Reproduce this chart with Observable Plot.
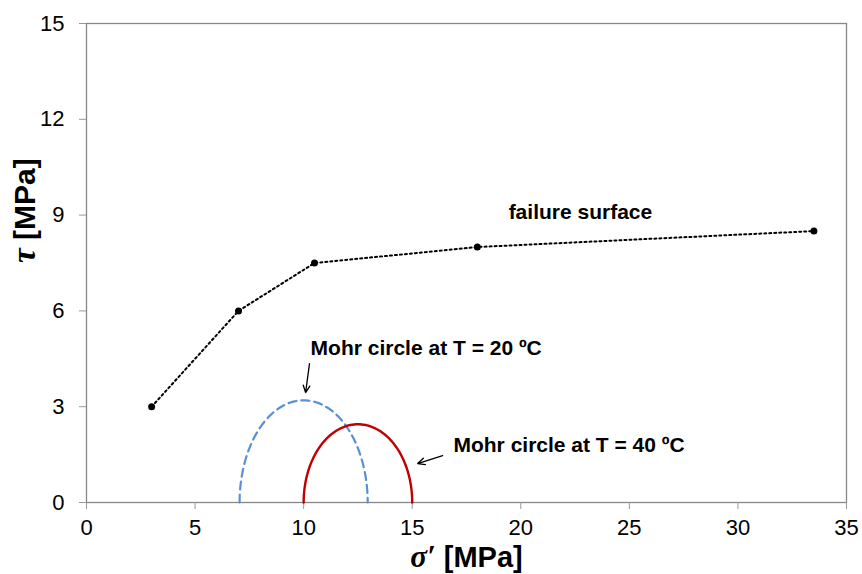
<!DOCTYPE html>
<html>
<head>
<meta charset="utf-8">
<script src="https://cdn.jsdelivr.net/npm/d3@7"></script>
<script src="https://cdn.jsdelivr.net/npm/@observablehq/plot@0.6"></script>
<style>
  html, body { margin: 0; padding: 0; background: #fff; }
  #chart { width: 862px; height: 574px; }
</style>
</head>
<body>
<div id="chart"></div>
<script>
// Failure surface points
const failureSigma = [3, 7, 10.5, 18, 33.5];
const failureTau = [3, 6, 7.5, 8, 8.5];

// Mohr circles (centre and half-axes)
const circleNames = ["T = 20 ºC", "T = 40 ºC"];
const circleCenter = [10, 12.5];
const circleRadiusX = [2.95, 2.5];
const circleRadiusY = [3.2, 2.45];
const circleColors = ["#5a8fd6", "#c00000"];

// Ticks
const xTicks = [0, 5, 10, 15, 20, 25, 30, 35];
const yTicks = [0, 3, 6, 9, 12, 15];

// Annotations
const annoText = ["failure surface", "Mohr circle at T = 20 ºC", "Mohr circle at T = 40 ºC"];
const annoX = [19.44, 10.32, 16.9];
const annoY = [9.08, 4.82, 1.79];

const arrowX1 = [10.27, 16.4];
const arrowY1 = [4.35, 1.47];
const arrowX2 = [10.09, 15.25];
const arrowY2 = [3.44, 1.22];

const failure = failureSigma.map((s, i) => ({s, t: failureTau[i]}));

function arc(i) {
  const pts = [];
  for (let a = 180; a >= 0; a -= 2) {
    const r = a * Math.PI / 180;
    pts.push({s: circleCenter[i] + circleRadiusX[i] * Math.cos(r), t: circleRadiusY[i] * Math.sin(r)});
  }
  return pts;
}
const circle20 = arc(0);
const circle40 = arc(1);

const annos = annoText.map((text, i) => ({text, x: annoX[i], y: annoY[i]}));
const arrows = arrowX1.map((x1, i) => ({x1, y1: arrowY1[i], x2: arrowX2[i], y2: arrowY2[i]}));

const font = "'Liberation Sans', Arial, Helvetica, sans-serif";

const chart = Plot.plot({
  width: 862,
  height: 574,
  marginLeft: 86,
  marginRight: 16,
  marginTop: 23,
  marginBottom: 72,
  style: {fontFamily: font, fontSize: "21px", color: "#000", background: "#fff", overflow: "visible"},
  x: {domain: [0, 35], ticks: xTicks, label: null},
  y: {domain: [0, 15], ticks: yTicks, label: null},
  marks: [
    Plot.frame({stroke: "#888", strokeWidth: 1.3}),
    Plot.axisX({ticks: xTicks, tickSize: 7, tickPadding: 10, stroke: "#999", fill: "#000", fontSize: 22, label: null}),
    Plot.axisY({ticks: yTicks, tickSize: 7, tickPadding: 15, stroke: "#999", fill: "#000", fontSize: 22, label: null}),
    Plot.line(circle20, {x: "s", y: "t", stroke: circleColors[0], strokeWidth: 2.2, strokeDasharray: "8,5"}),
    Plot.line(circle40, {x: "s", y: "t", stroke: circleColors[1], strokeWidth: 2.4}),
    Plot.line(failure, {x: "s", y: "t", stroke: "#000", strokeWidth: 2, strokeDasharray: "2,3"}),
    Plot.dot(failure, {x: "s", y: "t", r: 3.5, fill: "#000", stroke: "none"}),
    Plot.arrow(arrows, {x1: "x1", y1: "y1", x2: "x2", y2: "y2", stroke: "#000", strokeWidth: 1.3, headLength: 9, headAngle: 50}),
    Plot.text(annos, {x: "x", y: "y", text: "text", textAnchor: "start", lineAnchor: "middle", fontWeight: "bold", fontSize: 21, fill: "#000"}),
    Plot.text(["xlabel"], {frameAnchor: "bottom", dy: 55, text: d => "σ′ [MPa]", fontWeight: "bold", fontSize: 29, fill: "#000", lineAnchor: "middle", className: "xlab"}),
    Plot.text(["ylabel"], {frameAnchor: "left", dx: -61, rotate: -90, text: d => "τ [MPa]", fontWeight: "bold", fontSize: 30, fill: "#000", className: "ylab"})
  ]
});

document.getElementById("chart").appendChild(chart);

// Style the Greek letters in the axis titles (italic serif)
function styleTitle(cls, greek, rest, size) {
  d3.select(chart).selectAll("g." + cls + " text").each(function() {
    const t = d3.select(this);
    t.text(null);
    t.append("tspan").attr("font-family", "'Liberation Serif', 'Times New Roman', serif").attr("font-style", "italic").attr("font-size", size).text(greek);
    t.append("tspan").text(rest);
  });
}
styleTitle("xlab", "σ′", " [MPa]", 31);
styleTitle("ylab", "τ", " [MPa]", 33);
</script>
</body>
</html>
